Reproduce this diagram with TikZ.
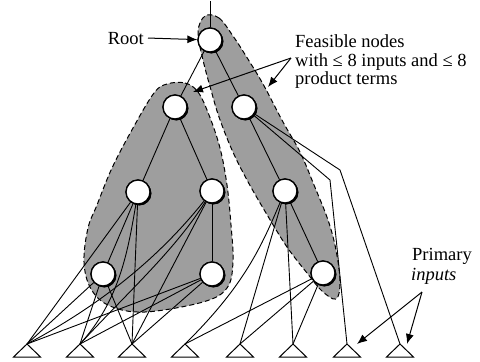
\documentclass[tikz,border=0pt]{standalone}
\usepackage{fontspec}
\setmainfont{Liberation Serif}
\usetikzlibrary{arrows.meta,shadows,calc}
\begin{document}
\begin{tikzpicture}[x=1pt,y=-1pt,
  gate/.style={circle,draw=black,fill=white,line width=1.3pt,minimum size=24pt,inner sep=0pt,
    drop shadow={shadow xshift=1.4pt,shadow yshift=-1.4pt,fill=black,opacity=1}},
  wire/.style={line width=0.9pt},
  blob/.style={fill=black!38,draw=black,line width=1pt,dash pattern=on 5pt off 3pt},
  tri/.style={draw=black,fill=white,line width=1pt,line join=miter},
  arr/.style={line width=1pt,-{Latex[length=10pt,width=8pt]}},
  lbl/.style={inner sep=0pt,font=\fontsize{18.5}{18.5}\selectfont}
]
\useasboundingbox (0,0) rectangle (480,362);

% feasible-node regions
\draw[blob] plot[smooth cycle,tension=0.6] coordinates {
  (167,84) (185,83) (198,92) (209,115) (220,148) (227,185) (231,225) (233,262)
  (227,288) (203,302) (145,312) (110,306) (91,289) (84,262) (88,228) (97,205)
  (112,168) (133,128) (154,93)};
\draw[blob] plot[smooth cycle,tension=0.6] coordinates {
  (205,16) (219,18) (233,36) (246,56) (263,84) (283,122) (300,152) (314,185)
  (328,220) (336,250) (340,282) (336,299) (322,291) (307,273) (287,247)
  (266,213) (247,180) (232,150) (219,117) (211,90) (203,60) (198,32)};

% nodes
\coordinate (top) at (210,1);
\foreach \i/\x in {1/27,2/80,3/132,4/185,5/240,6/293,7/347,8/400}
  \coordinate (t\i) at (\x,344);
\node[gate] (R) at (210,40) {};
\node[gate] (A) at (175,107) {};
\node[gate] (B) at (244,107) {};
\node[gate] (C) at (138,192) {};
\node[gate] (D) at (212,191) {};
\node[gate] (E) at (285,191) {};
\node[gate] (F) at (103,274) {};
\node[gate] (G) at (212,274) {};
\node[gate] (H) at (323,273) {};

% connectors
\draw[wire] (top) -- (R);
\draw[wire] (R) -- (A);
\draw[wire] (R) -- (B);
\draw[wire] (A) -- (C);
\draw[wire] (A) -- (D);
\draw[wire] (B) -- (E);
\coordinate (b7) at (330,180);
\coordinate (b8) at (340,170);
\draw[wire] (B) -- (b7) -- (t7);
\draw[wire] (B) -- (b8) -- (t8);
\draw[wire] (E) -- (H);
\draw[wire] (E) .. controls (262,245) and (245,285) .. (t4);
\draw[wire] (E) -- (t5);
\draw[wire] (E) -- (t6);
\draw[wire] (H) -- (t4);
\draw[wire] (H) -- (t5);
\draw[wire] (H) -- (t6);
\draw[wire] (C) -- (F);
\draw[wire] (C) -- (t1);
\draw[wire] (C) .. controls (128,250) and (120,300) .. (t2);
\draw[wire] (C) -- (t3);
\draw[wire] (D) -- (G);
\draw[wire] (D) .. controls (165,250) and (110,300) .. (t1);
\draw[wire] (D) .. controls (175,250) and (130,290) .. (t2);
\draw[wire] (D) -- (t3);
\draw[wire] (F) -- (t1);
\draw[wire] (F) -- (t2);
\draw[wire] (F) -- (t3);
\draw[wire] (G) -- (t1);
\draw[wire] (G) -- (t2);
\draw[wire] (G) -- (t3);

% redraw gates on top of wires
\foreach \n in {R,A,B,C,D,E,F,G,H}
  \node[gate] at (\n) {};

% primary input triangles
\foreach \i in {1,...,8}
  \draw[tri] ($(t\i)+(-13.5,13)$) -- (t\i) -- ($(t\i)+(13.5,13)$) -- cycle;

% labels
\node[lbl,anchor=base east] (rootlbl) at (144,44) {Root};
\draw[arr] ([xshift=4pt]rootlbl.east) -- (R);

\node[lbl,anchor=base west] (f1) at (295,47) {Feasible nodes};
\node[lbl,anchor=base west] (f2) at (295,66) {with ≤ 8 inputs and ≤ 8};
\node[lbl,anchor=base west] (f3) at (295,84) {product terms};
\coordinate (fa) at (291,58);
\coordinate (fb) at (268,87);
\coordinate (fc) at (193,92);
\draw[arr] (fa) -- (fb);
\draw[arr] (fa) -- (fc);

\node[lbl,anchor=base west] (p1) at (412,260) {Primary};
\node[lbl,anchor=base west] (p2) at (411,280) {\itshape inputs};
\coordinate (pa) at (422,292);
\coordinate (pb) at (357,344);
\coordinate (pc) at (407,344);
\draw[arr] (pa) -- (pb);
\draw[arr] (pa) -- (pc);
\end{tikzpicture}
\end{document}
